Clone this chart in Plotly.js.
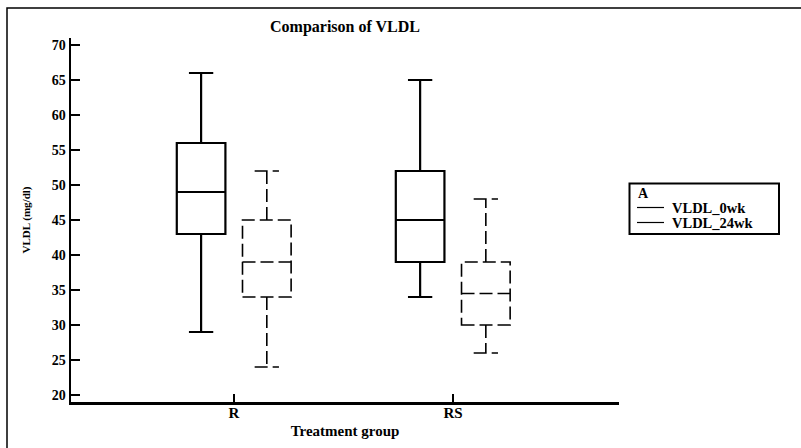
<!DOCTYPE html>
<html>
<head>
<meta charset="utf-8">
<script src="https://cdn.plot.ly/plotly-3.0.1.min.js"></script>
<style>
html,body{margin:0;padding:0;background:#fff;}
#chart{width:801px;height:448px;}
</style>
</head>
<body>
<div id="chart"></div>
<script>
// Data
var groups = ['R', 'RS'];
var seriesNames = ['VLDL_0wk', 'VLDL_24wk'];
var legendTitle = 'A';
var lower0 = [29, 34];
var q1_0 = [43, 39];
var median0 = [49, 45];
var q3_0 = [56, 52];
var upper0 = [66, 65];
var lower24 = [24, 26];
var q1_24 = [34, 30];
var median24 = [39, 34.5];
var q3_24 = [45, 39];
var upper24 = [52, 48];
var yTicks = [20, 25, 30, 35, 40, 45, 50, 55, 60, 65, 70];

var FONT = 'Liberation Serif, Times New Roman, serif';

var traces = [
  {
    type: 'box', name: seriesNames[0], x: groups,
    q1: q1_0, median: median0, q3: q3_0, lowerfence: lower0, upperfence: upper0,
    line: {color: '#000', width: 2.2}, fillcolor: 'rgba(0,0,0,0)',
    whiskerwidth: 0.5, showlegend: false, hoverinfo: 'skip'
  },
  {
    type: 'box', name: seriesNames[1], x: groups,
    q1: q1_24, median: median24, q3: q3_24, lowerfence: lower24, upperfence: upper24,
    line: {color: '#000', width: 1.6}, fillcolor: 'rgba(0,0,0,0)',
    whiskerwidth: 0.5, showlegend: false, hoverinfo: 'skip'
  }
];

var L = 71, R = 619, T = 38, B = 402, W = 801, H = 448;
var pw = R - L, ph = B - T;
function px(x){ return (x - L) / pw; }
function py(y){ return (B - y) / ph; }

// Legend drawn as a framed key (lines + labels)
var legendRows = [207.5, 222.5];
var shapes = [
  {type: 'rect', xref: 'paper', yref: 'paper',
   x0: px(7), x1: 2, y0: -0.5, y1: py(8),
   line: {color: '#000', width: 1.5}, fillcolor: 'rgba(0,0,0,0)', layer: 'below'},
  {type: 'rect', xref: 'paper', yref: 'paper',
   x0: px(629.5), x1: px(779), y0: py(234), y1: py(183.5),
   line: {color: '#000', width: 2}, fillcolor: '#fff'}
];
var annotations = [
  {xref: 'paper', yref: 'paper', x: px(636), y: py(193), xanchor: 'left', yanchor: 'middle',
   text: '<b>' + legendTitle + '</b>', showarrow: false,
   font: {family: FONT, size: 14, color: '#000'}}
];
seriesNames.forEach(function(n, i){
  shapes.push({type: 'line', xref: 'paper', yref: 'paper',
    x0: px(637), x1: px(664), y0: py(legendRows[i]), y1: py(legendRows[i]),
    line: {color: '#000', width: 1.2}});
  annotations.push({xref: 'paper', yref: 'paper', x: px(670), y: py(legendRows[i]),
    xanchor: 'left', yanchor: 'middle', text: '<b>' + n + '</b>', showarrow: false,
    font: {family: FONT, size: 14.5, color: '#000'}});
});

var layout = {
  width: W, height: H,
  margin: {l: L, r: W - R, t: T, b: H - B, pad: 0},
  paper_bgcolor: '#fff', plot_bgcolor: '#fff',
  boxmode: 'group', boxgap: 0.4, boxgroupgap: 0.26,
  showlegend: false,
  font: {family: FONT, color: '#000', size: 14},
  title: {
    text: '<b>Comparison of VLDL</b>',
    font: {family: FONT, size: 16, color: '#000'},
    x: 345 / W, xref: 'container', xanchor: 'center',
    y: 1 - 26 / H, yref: 'container', yanchor: 'middle'
  },
  xaxis: {
    type: 'category', range: [-0.744, 1.758],
    showline: true, linecolor: '#000', linewidth: 2.5,
    ticks: 'inside', ticklen: 8, tickwidth: 2, tickcolor: '#000',
    showgrid: false, zeroline: false,
    tickfont: {family: FONT, size: 15, color: '#000'},
    tickprefix: '<b>', ticksuffix: '</b>',
    ticklabelstandoff: -5,
    title: {text: '<b>Treatment group</b>', font: {family: FONT, size: 15, color: '#000'}, standoff: 6},
    automargin: false
  },
  yaxis: {
    range: [19, 71], tickvals: yTicks,
    ticktext: yTicks.map(function(v){return '<b>' + v + '</b>';}),
    showline: true, linecolor: '#000', linewidth: 2.5,
    ticks: 'inside', ticklen: 9, tickwidth: 2, tickcolor: '#000',
    showgrid: false, zeroline: false,
    tickfont: {family: FONT, size: 14, color: '#000'},
    title: {text: '<b>VLDL (mg/dl)</b>', font: {family: FONT, size: 11, color: '#000'}, standoff: 19},
    automargin: false
  },
  shapes: shapes,
  annotations: annotations
};

Plotly.newPlot('chart', traces, layout, {displayModeBar: false, staticPlot: true}).then(function(gd){
  var boxTraces = gd.querySelectorAll('.boxlayer .trace');
  if (boxTraces.length > 1) {
    boxTraces[1].querySelectorAll('path.box').forEach(function(p){
      p.style.strokeDasharray = '13px,5px';
    });
  }
});
</script>
</body>
</html>
